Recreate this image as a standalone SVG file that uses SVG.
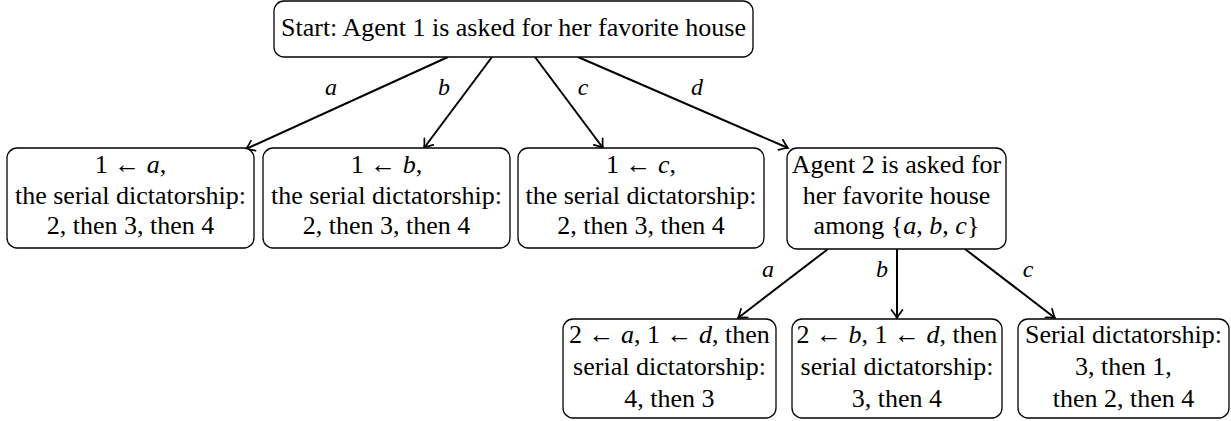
<svg xmlns="http://www.w3.org/2000/svg" width="1231" height="421" viewBox="0 0 1231 421">
<style>
.box{fill:#fff;stroke:#000;stroke-width:1.3}
.t{font-size:26px;fill:#000;text-anchor:middle}
.lbl{font-size:24px;font-style:italic;fill:#000;text-anchor:middle}
.i{font-style:italic}
.e{fill:none;stroke:#000;stroke-width:2;marker-end:url(#ah)}
</style>
<defs>
<marker id="ah" viewBox="-10 -7 12 14" refX="0" refY="0" markerWidth="12" markerHeight="14" markerUnits="userSpaceOnUse" orient="auto">
<path d="M-8,-5.5 Q-3,-1.5 0,0 Q-3,1.5 -8,5.5" fill="none" stroke="#000" stroke-width="1.7" stroke-linecap="round"/>
</marker>
</defs>
<g id="connectors">
<line class="e" x1="448" y1="57" x2="246" y2="149"/>
<line class="e" x1="492" y1="57" x2="424" y2="148"/>
<line class="e" x1="535" y1="57" x2="603" y2="148"/>
<line class="e" x1="578" y1="57" x2="788" y2="148"/>
<line class="e" x1="828" y1="249" x2="738" y2="318"/>
<line class="e" x1="897" y1="249" x2="897" y2="318"/>
<line class="e" x1="965" y1="249" x2="1055" y2="318"/>
<text class="lbl" font-family="Liberation Serif" x="331" y="95">a</text>
<text class="lbl" font-family="Liberation Serif" x="444" y="95">b</text>
<text class="lbl" font-family="Liberation Serif" x="583" y="95">c</text>
<text class="lbl" font-family="Liberation Serif" x="697" y="95">d</text>
<text class="lbl" font-family="Liberation Serif" x="768" y="277">a</text>
<text class="lbl" font-family="Liberation Serif" x="882" y="277">b</text>
<text class="lbl" font-family="Liberation Serif" x="1028" y="277">c</text>
</g>
<g id="start">
<rect class="box" x="274" y="1" width="479" height="56" rx="10"/>
<text class="t" font-family="Liberation Serif" x="513.5" y="36">Start: Agent 1 is asked for her favorite house</text>
</g>
<g id="n_a">
<rect class="box" x="7" y="148" width="247" height="100" rx="10"/>
<text class="t" font-family="Liberation Serif" x="130.5" y="173">1 ← <tspan class="i">a</tspan>,</text>
<text class="t" font-family="Liberation Serif" x="130.5" y="204">the serial dictatorship:</text>
<text class="t" font-family="Liberation Serif" x="130.5" y="234">2, then 3, then 4</text>
</g>
<g id="n_b">
<rect class="box" x="263" y="148" width="247" height="100" rx="10"/>
<text class="t" font-family="Liberation Serif" x="386.5" y="173">1 ← <tspan class="i">b</tspan>,</text>
<text class="t" font-family="Liberation Serif" x="386.5" y="204">the serial dictatorship:</text>
<text class="t" font-family="Liberation Serif" x="386.5" y="234">2, then 3, then 4</text>
</g>
<g id="n_c">
<rect class="box" x="518" y="148" width="246" height="100" rx="10"/>
<text class="t" font-family="Liberation Serif" x="641" y="173">1 ← <tspan class="i">c</tspan>,</text>
<text class="t" font-family="Liberation Serif" x="641" y="204">the serial dictatorship:</text>
<text class="t" font-family="Liberation Serif" x="641" y="234">2, then 3, then 4</text>
</g>
<g id="n_d">
<rect class="box" x="787" y="148" width="219" height="101" rx="10"/>
<text class="t" font-family="Liberation Serif" x="896.5" y="173">Agent 2 is asked for</text>
<text class="t" font-family="Liberation Serif" x="896.5" y="204">her favorite house</text>
<text class="t" font-family="Liberation Serif" x="896.5" y="234">among {<tspan class="i">a</tspan>, <tspan class="i">b</tspan>, <tspan class="i">c</tspan>}</text>
</g>
<g id="n_da">
<rect class="box" x="563" y="319" width="213" height="99" rx="10"/>
<text class="t" font-family="Liberation Serif" x="669.5" y="343">2 ← <tspan class="i">a</tspan>, 1 ← <tspan class="i">d</tspan>, then</text>
<text class="t" font-family="Liberation Serif" x="669.5" y="375">serial dictatorship:</text>
<text class="t" font-family="Liberation Serif" x="669.5" y="407">4, then 3</text>
</g>
<g id="n_db">
<rect class="box" x="792" y="319" width="210" height="99" rx="10"/>
<text class="t" font-family="Liberation Serif" x="897" y="343">2 ← <tspan class="i">b</tspan>, 1 ← <tspan class="i">d</tspan>, then</text>
<text class="t" font-family="Liberation Serif" x="897" y="375">serial dictatorship:</text>
<text class="t" font-family="Liberation Serif" x="897" y="407">3, then 4</text>
</g>
<g id="n_dc">
<rect class="box" x="1018" y="319" width="211" height="99" rx="10"/>
<text class="t" font-family="Liberation Serif" x="1123.5" y="343">Serial dictatorship:</text>
<text class="t" font-family="Liberation Serif" x="1123.5" y="375">3, then 1,</text>
<text class="t" font-family="Liberation Serif" x="1123.5" y="407">then 2, then 4</text>
</g>
</svg>
